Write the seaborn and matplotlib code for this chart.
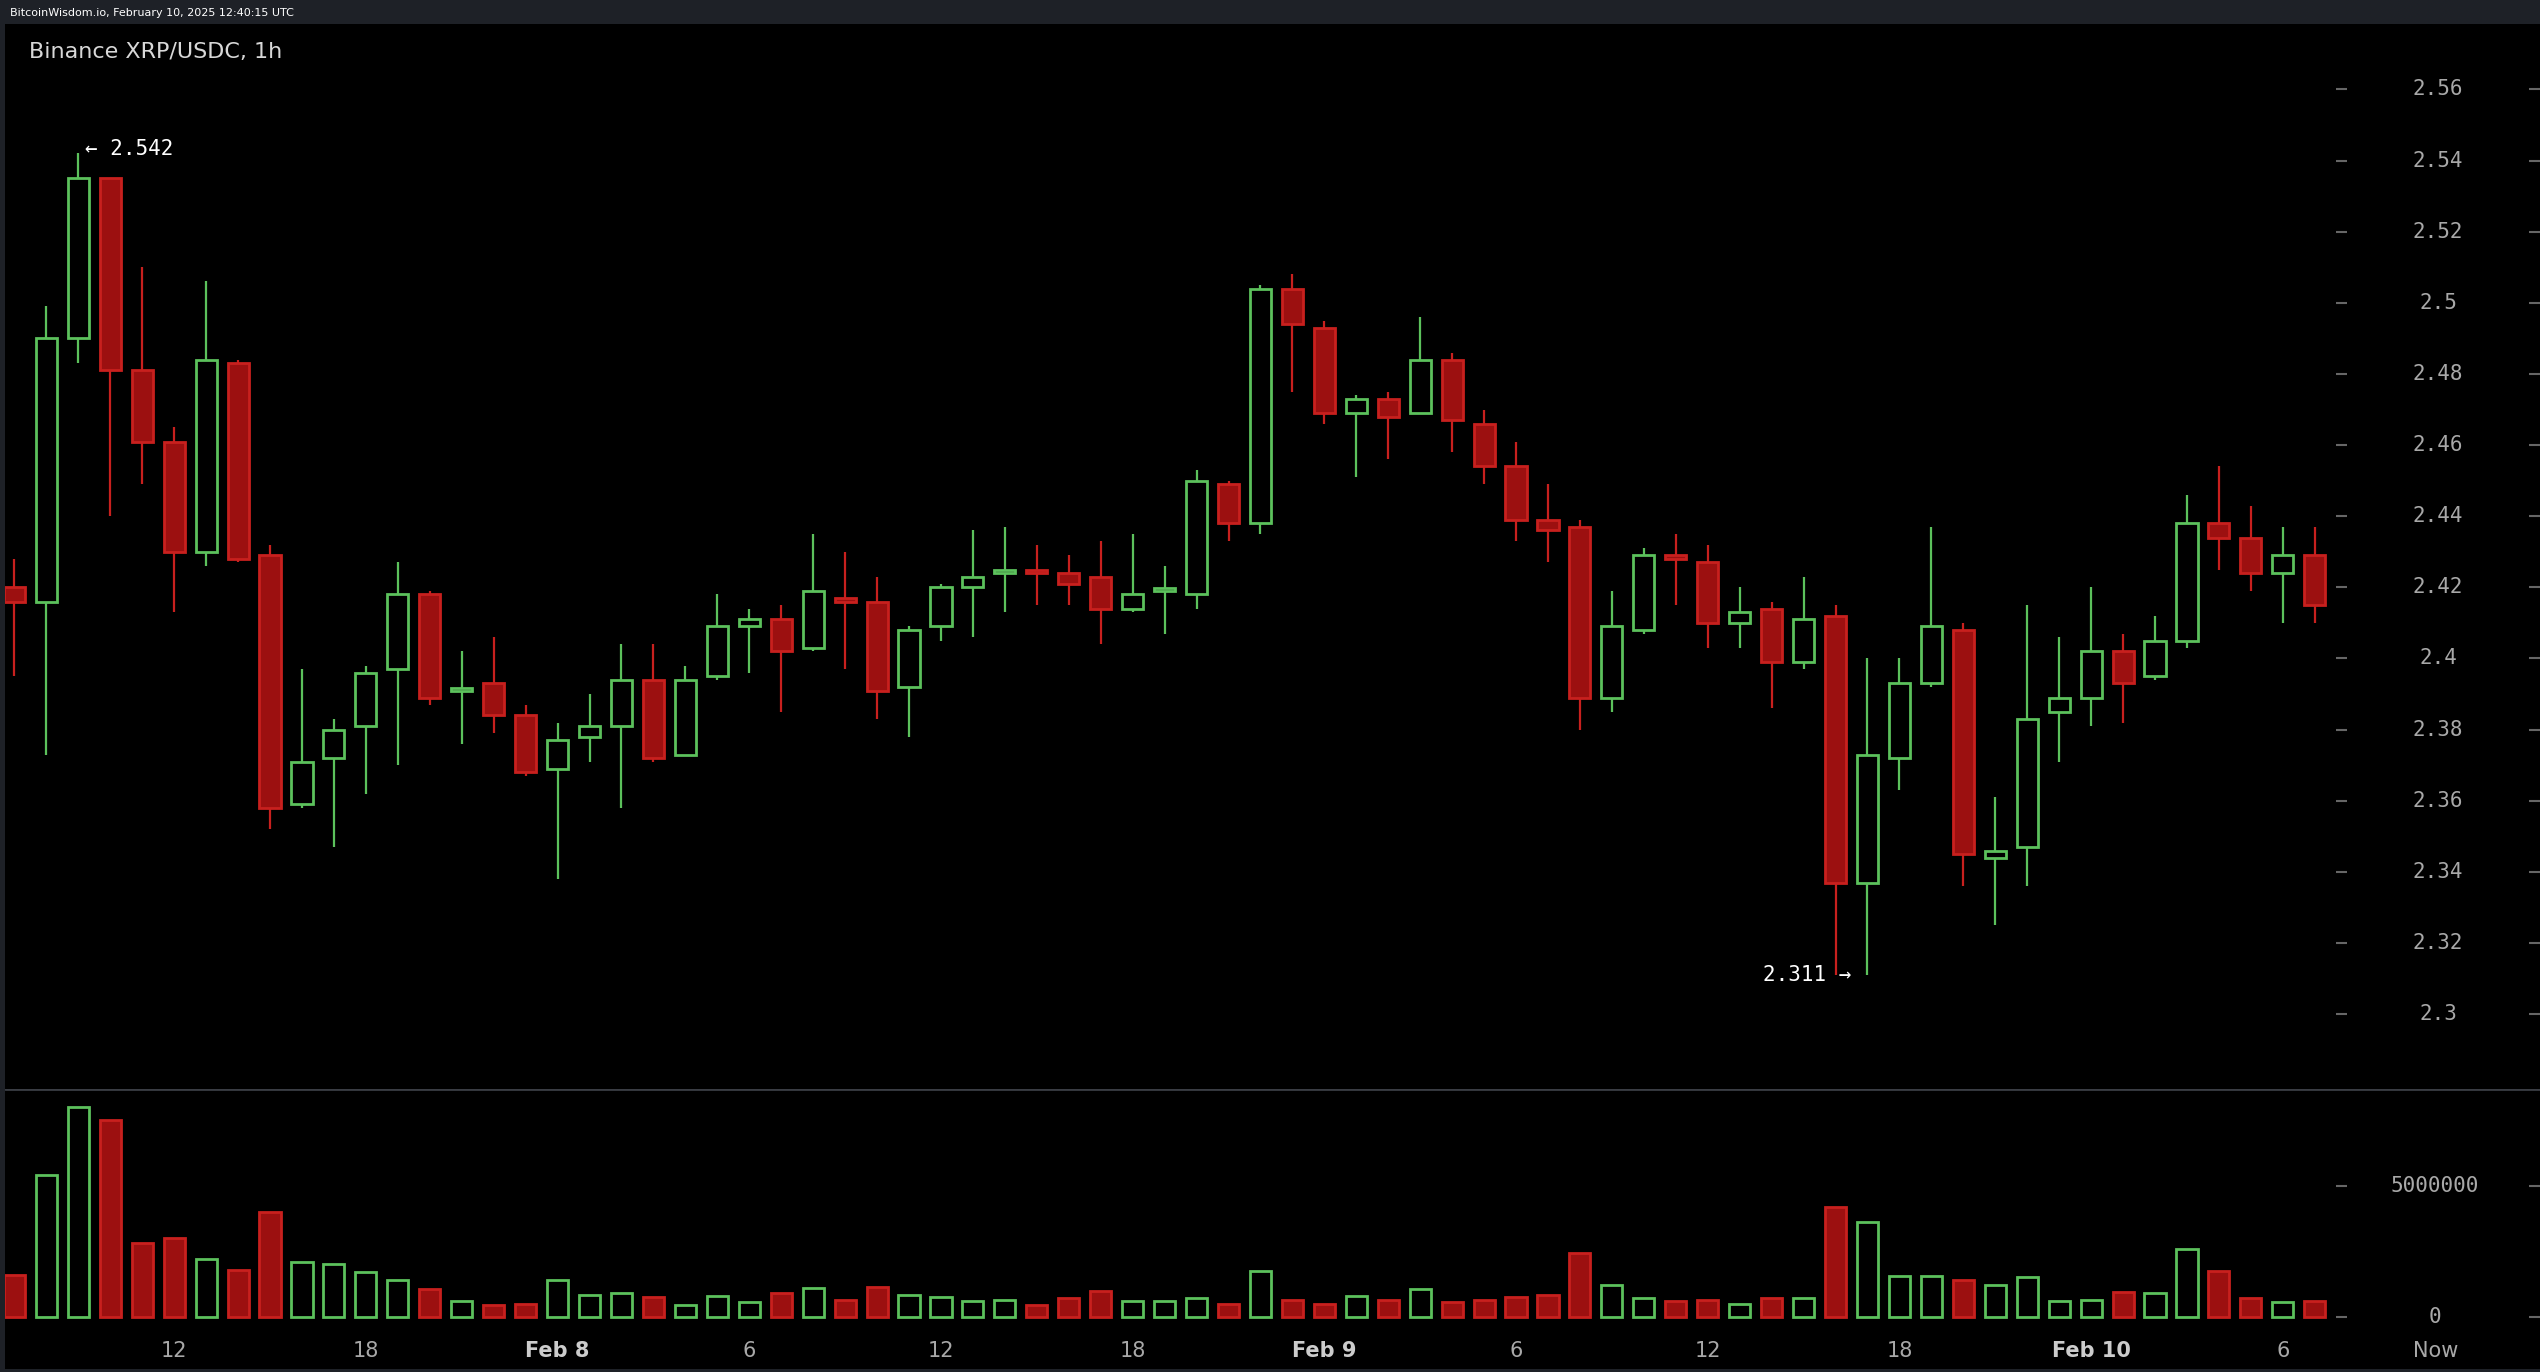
import matplotlib
matplotlib.use("Agg")
import matplotlib.pyplot as plt
import matplotlib.transforms as mtransforms
import seaborn as sns
import numpy as np

sns.set_style("dark")
plt.rcParams['font.family'] = ['DejaVu Sans Mono', 'DejaVu Sans']

opens = [2.420,2.416,2.490,2.535,2.481,2.461,2.430,2.483,2.429,2.359,2.372,2.381,2.397,2.418,2.391,2.393,2.384,2.369,2.378,2.381,2.394,2.373,
         2.395,2.409,2.411,2.403,2.417,2.416,2.392,2.409,2.420,2.424,2.425,2.424,2.423,2.414,2.419,2.418,2.449,2.438,2.504,2.493,2.469,2.473,
         2.469,2.484,2.466,2.454,2.439,2.437,2.389,2.408,2.429,2.427,2.410,2.414,2.399,2.412,2.337,2.372,2.393,2.408,2.344,2.347,2.385,2.389,
         2.402,2.395,2.405,2.438,2.434,2.424,2.429]
closes = [2.416,2.490,2.535,2.481,2.461,2.430,2.484,2.428,2.358,2.371,2.380,2.396,2.418,2.389,2.391,2.384,2.368,2.377,2.381,2.394,2.372,2.394,
          2.409,2.411,2.402,2.419,2.416,2.391,2.408,2.420,2.423,2.425,2.424,2.421,2.414,2.418,2.419,2.450,2.438,2.504,2.494,2.469,2.473,2.468,
          2.484,2.467,2.454,2.439,2.436,2.389,2.409,2.429,2.428,2.410,2.413,2.399,2.411,2.337,2.373,2.393,2.409,2.345,2.346,2.383,2.389,2.402,
          2.393,2.405,2.438,2.434,2.424,2.429,2.415]
highs = [2.428,2.499,2.542,2.535,2.510,2.465,2.506,2.484,2.432,2.397,2.383,2.398,2.427,2.419,2.402,2.406,2.387,2.382,2.390,2.404,2.404,2.398,
         2.418,2.414,2.415,2.435,2.430,2.423,2.409,2.421,2.436,2.437,2.432,2.429,2.433,2.435,2.426,2.453,2.450,2.505,2.508,2.495,2.474,2.475,
         2.496,2.486,2.470,2.461,2.449,2.439,2.419,2.431,2.435,2.432,2.420,2.416,2.423,2.415,2.400,2.400,2.437,2.410,2.361,2.415,2.406,2.420,
         2.407,2.412,2.446,2.454,2.443,2.437,2.437]
lows = [2.395,2.373,2.483,2.440,2.449,2.413,2.426,2.427,2.352,2.358,2.347,2.362,2.370,2.387,2.376,2.379,2.367,2.338,2.371,2.358,2.371,2.373,
        2.394,2.396,2.385,2.402,2.397,2.383,2.378,2.405,2.406,2.413,2.415,2.415,2.404,2.413,2.407,2.414,2.433,2.435,2.475,2.466,2.451,2.456,
        2.469,2.458,2.449,2.433,2.427,2.380,2.385,2.407,2.415,2.403,2.403,2.386,2.397,2.311,2.311,2.363,2.392,2.336,2.325,2.336,2.371,2.381,
        2.382,2.394,2.403,2.425,2.419,2.410,2.410]
volumes = [1.6e6,5.4e6,8.0e6,7.5e6,2.8e6,3.0e6,2.2e6,1.8e6,4.0e6,2.1e6,2.0e6,1.7e6,1.4e6,1.05e6,0.6e6,0.45e6,0.5e6,1.4e6,0.85e6,0.9e6,0.75e6,0.45e6,
           0.8e6,0.55e6,0.9e6,1.1e6,0.65e6,1.15e6,0.85e6,0.75e6,0.6e6,0.65e6,0.45e6,0.7e6,1.0e6,0.6e6,0.6e6,0.7e6,0.5e6,1.75e6,0.65e6,0.5e6,0.8e6,0.65e6,
           1.05e6,0.55e6,0.65e6,0.75e6,0.85e6,2.45e6,1.2e6,0.7e6,0.6e6,0.65e6,0.5e6,0.7e6,0.7e6,4.2e6,3.6e6,1.55e6,1.55e6,1.4e6,1.2e6,1.5e6,0.6e6,0.65e6,
           0.95e6,0.9e6,2.6e6,1.75e6,0.7e6,0.55e6,0.6e6]
xtick_pos = [5, 11, 17, 23, 29, 35, 41, 47, 53, 59, 65, 71, 75.8]
xtick_labels = ["12", "18", "Feb 8", "6", "12", "18", "Feb 9", "6", "12", "18", "Feb 10", "6", "Now"]
price_ticks = [2.30,2.32,2.34,2.36,2.38,2.40,2.42,2.44,2.46,2.48,2.50,2.52,2.54,2.56]
vol_ticks = [0, 5000000]

GREEN = "#5cc15c"
RED_F = "#9c1010"
RED_E = "#c8201e"
W, H = 1568, 847

fig = plt.figure(figsize=(25.4, 13.72), dpi=100, facecolor="#1e2127")
def box(x0, y0, x1, y1):
    return [x0 / W, 1 - y1 / H, (x1 - x0) / W, (y1 - y0) / H]

axp = fig.add_axes(box(3, 15, 1568, 672))
axv = fig.add_axes(box(3, 672, 1568, 845))
n = len(opens)
x = np.arange(n)
xl = (-0.30, 79.05)
for ax in (axp, axv):
    ax.set_facecolor("black")
    ax.set_xlim(*xl)
    ax.set_xticks([]); ax.set_yticks([])
    for s in ax.spines.values():
        s.set_visible(False)
    ax.grid(False)

axp.set_ylim(2.2791, 2.5783)
axv.set_ylim(-1.98e6, 8.70e6)
bw = 0.66
for i in x:
    o, c, h, l = opens[i], closes[i], highs[i], lows[i]
    up = c >= o
    col = GREEN if up else RED_E
    lo, hi = min(o, c), max(o, c)
    axp.vlines(i, l, lo, color=col, lw=1.6, zorder=2)
    axp.vlines(i, hi, h, color=col, lw=1.6, zorder=2)
    height = max(hi - lo, 0.0008)
    if up:
        axp.bar(i, height, bottom=lo, width=bw, facecolor="black", edgecolor=GREEN, lw=2, zorder=3)
        axv.bar(i, volumes[i], width=bw, facecolor="black", edgecolor=GREEN, lw=2)
    else:
        axp.bar(i, height, bottom=lo, width=bw, facecolor=RED_F, edgecolor=RED_E, lw=2, zorder=3)
        axv.bar(i, volumes[i], width=bw, facecolor=RED_F, edgecolor=RED_E, lw=2)

axv.axhline(8.70e6, color="#3a3d44", lw=2)

tcol = "#a8a8a8"
tr_p = mtransforms.blended_transform_factory(axp.transAxes, axp.transData)
tr_v = mtransforms.blended_transform_factory(axv.transAxes, axv.transData)
def fx(px):
    return (px - 3) / (1568 - 3)
for p in price_ticks:
    axp.text(fx(1505), p, f"{p:g}", transform=tr_p, ha="center", va="center", color=tcol, fontsize=15)
    axp.hlines(p, fx(1442), fx(1449), transform=tr_p, color="#666", lw=1.5)
    axp.hlines(p, fx(1561), fx(1568), transform=tr_p, color="#666", lw=1.5)
for v in vol_ticks:
    axv.text(fx(1503), v, f"{v:d}", transform=tr_v, ha="center", va="center", color=tcol, fontsize=15)
    axv.hlines(v, fx(1442), fx(1449), transform=tr_v, color="#666", lw=1.5)
    axv.hlines(v, fx(1561), fx(1568), transform=tr_v, color="#666", lw=1.5)

ylab = -1.98e6 + (8.70e6 + 1.98e6) * (845 - 834) / 173
for pos, lab in zip(xtick_pos, xtick_labels):
    bold = lab.startswith("Feb")
    axv.text(pos, ylab, lab, ha="center", va="center", color=tcol if not bold else "#cccccc",
             fontsize=15, fontweight="bold" if bold else "normal", family=["DejaVu Sans"])

imax = int(np.argmax(highs)); imin = int(np.argmin(lows))
axp.text(imax + 0.2, highs[imax] + 0.0012, f"\u2190 {highs[imax]:.3f}", color="white", fontsize=15, ha="left", va="center")
axp.text(imin + 0.5, lows[imin], f"{lows[imin]:.3f} \u2192", color="white", fontsize=15, ha="right", va="center")

fig.text(18 / W, 1 - 32 / H, "Binance XRP/USDC, 1h", color="#d8d8d8", fontsize=16, va="center", family=["DejaVu Sans"])
fig.text(6 / W, 1 - 8 / H, "BitcoinWisdom.io, February 10, 2025 12:40:15 UTC", color="white", fontsize=8, va="center", family=["DejaVu Sans"])

fig.savefig("out.png", dpi=100, facecolor=fig.get_facecolor())
